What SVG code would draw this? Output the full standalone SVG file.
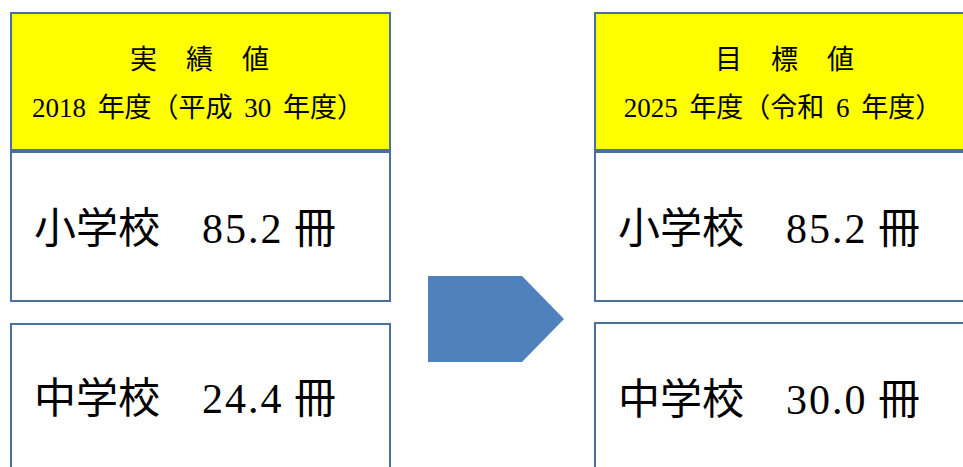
<svg xmlns="http://www.w3.org/2000/svg" width="963" height="467" viewBox="0 0 963 467">
<style>
.box{fill:#fff;stroke:#4A6FA0;stroke-width:2}
.hdr{fill:#FFFF00;stroke:#4A6FA0;stroke-width:2}
text{font-family:"Liberation Serif","Noto Sans CJK JP",serif;fill:#000}
.h{font-size:27px;text-anchor:middle}
.y{word-spacing:5px}
.b{font-size:42px}
.n{letter-spacing:2px}
</style>
<rect x="0" y="0" width="963" height="467" fill="#fff"/>
<g id="left-header">
<rect class="hdr" x="11" y="13" width="379" height="137"/>
<text class="h" x="200" y="69" letter-spacing="1">実　績　値</text>
<text class="h y" x="198" y="117">2018 年度（平成 30 年度）</text>
</g>
<g id="left-elem">
<rect class="box" x="11" y="152" width="379" height="149"/>
<text class="b" x="34" y="243">小学校　<tspan class="n">85.2</tspan> 冊</text>
</g>
<g id="left-junior">
<rect class="box" x="11" y="324" width="379" height="150"/>
<text class="b" x="34" y="413">中学校　<tspan class="n">24.4</tspan> 冊</text>
</g>
<g id="right-header">
<rect class="hdr" x="595" y="13" width="380" height="137"/>
<text class="h" x="785" y="69" letter-spacing="1">目　標　値</text>
<text class="h y" x="783" y="117">2025 年度（令和 6 年度）</text>
</g>
<g id="right-elem">
<rect class="box" x="595" y="152" width="380" height="149"/>
<text class="b" x="618" y="243">小学校　<tspan class="n">85.2</tspan> 冊</text>
</g>
<g id="right-junior">
<rect class="box" x="595" y="323" width="380" height="151"/>
<text class="b" x="618" y="414">中学校　<tspan class="n">30.0</tspan> 冊</text>
</g>
<g id="connectors">
<polygon points="428,276 522,276 564,319 522,362 428,362" fill="#4F81BD"/>
</g>
</svg>
